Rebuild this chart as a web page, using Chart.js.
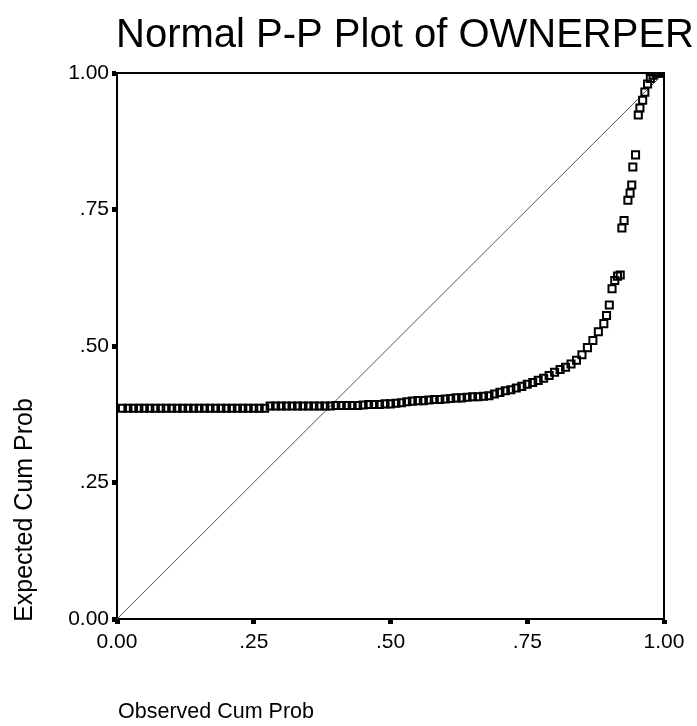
<!DOCTYPE html>
<html>
<head>
<meta charset="utf-8">
<script src="https://cdn.jsdelivr.net/npm/chart.js@4/dist/chart.umd.min.js"></script>
<style>
  html, body { margin: 0; padding: 0; background: #fff; }
  canvas { display: block; }
</style>
</head>
<body>
<canvas id="c" width="697" height="726"></canvas>
<script>
const chartTitle = 'Normal P-P Plot of OWNERPER';
const xAxisTitle = 'Observed Cum Prob';
const yAxisTitle = 'Expected Cum Prob';
const xTickLabels = ['0.00', '.25', '.50', '.75', '1.00'];
const yTickLabels = ['0.00', '.25', '.50', '.75', '1.00'];

// Observed cumulative probability (x) and expected cumulative probability (y)
const observedCum = [
  0.01,0.02,0.03,0.04,0.05,0.06,0.07,0.08,0.09,0.10,
  0.11,0.12,0.13,0.14,0.15,0.16,0.17,0.18,0.19,0.20,
  0.21,0.22,0.23,0.24,0.25,0.26,0.27,0.28,0.29,0.30,
  0.31,0.32,0.33,0.34,0.35,0.36,0.37,0.38,0.39,0.40,
  0.41,0.42,0.43,0.44,0.45,0.46,0.47,0.48,0.49,0.50,
  0.51,0.52,0.53,0.54,0.55,0.56,0.57,0.58,0.59,0.60,
  0.61,0.62,0.63,0.64,0.65,0.66,0.67,0.68,0.69,0.70,
  0.71,0.72,0.73,0.74,0.75,0.76,0.77,0.78,0.79,0.80,
  0.81,0.82,0.83,0.84,0.85,0.86,0.87,0.88,0.89,0.895,
  0.90,0.905,0.91,0.915,0.92,0.923,0.927,0.934,0.938,0.941,
  0.943,0.948,0.953,0.956,0.961,0.965,0.970,0.975,0.980,0.985,
  0.990,0.995,1.00
];
const expectedCum = [
  0.386,0.386,0.386,0.386,0.386,0.386,0.386,0.386,0.386,0.386,
  0.386,0.386,0.386,0.386,0.386,0.386,0.386,0.386,0.386,0.386,
  0.386,0.386,0.386,0.386,0.386,0.386,0.386,0.390,0.390,0.390,
  0.390,0.390,0.390,0.390,0.390,0.390,0.390,0.390,0.390,0.391,
  0.391,0.391,0.391,0.391,0.392,0.393,0.393,0.393,0.394,0.394,
  0.395,0.396,0.398,0.399,0.400,0.400,0.401,0.402,0.402,0.403,
  0.404,0.405,0.405,0.406,0.407,0.407,0.408,0.409,0.412,0.415,
  0.418,0.420,0.423,0.426,0.430,0.433,0.437,0.441,0.446,0.452,
  0.457,0.461,0.467,0.474,0.484,0.497,0.510,0.526,0.541,0.556,
  0.575,0.605,0.620,0.628,0.630,0.716,0.730,0.767,0.780,0.795,
  0.828,0.850,0.923,0.936,0.950,0.965,0.980,0.990,0.996,1.000,
  1.000,1.000,1.000
];
const diagonalX = [0, 1];
const diagonalY = [0, 1];

const points = observedCum.map((x, i) => ({ x: x, y: expectedCum[i] }));
const diagonal = diagonalX.map((x, i) => ({ x: x, y: diagonalY[i] }));

const FONT = "'Liberation Sans', Arial, Helvetica, sans-serif";

const framePlugin = {
  id: 'frameAndText',
  afterDraw(chart) {
    const ctx = chart.ctx;
    const a = chart.chartArea;
    ctx.save();
    // top and right frame
    ctx.strokeStyle = '#000';
    ctx.lineWidth = 2;
    ctx.beginPath();
    ctx.moveTo(a.left, a.top);
    ctx.lineTo(a.right, a.top);
    ctx.lineTo(a.right, a.bottom);
    ctx.stroke();
    // title
    ctx.fillStyle = '#000';
    ctx.font = '40px ' + FONT;
    ctx.textAlign = 'center';
    ctx.textBaseline = 'alphabetic';
    ctx.fillText(chartTitle, 405, 47);
    // x axis title (left aligned with plot)
    ctx.font = '21.5px ' + FONT;
    ctx.textAlign = 'left';
    ctx.fillText(xAxisTitle, a.left + 1, 718);
    // y axis title
    ctx.translate(32, 510);
    ctx.rotate(-Math.PI / 2);
    ctx.font = '25px ' + FONT;
    ctx.textAlign = 'center';
    ctx.textBaseline = 'alphabetic';
    ctx.fillText(yAxisTitle, 0, 0);
    ctx.restore();
  }
};

new Chart(document.getElementById('c'), {
  type: 'scatter',
  data: {
    datasets: [
      {
        label: 'Diagonal',
        data: diagonal,
        showLine: true,
        borderColor: '#555',
        borderWidth: 1,
        pointRadius: 0,
        fill: false,
        order: 2
      },
      {
        label: 'OWNERPER',
        data: points,
        pointStyle: 'rect',
        pointRadius: 5,
        borderColor: '#000',
        borderWidth: 2,
        backgroundColor: 'rgba(0,0,0,0)',
        order: 1
      }
    ]
  },
  options: {
    responsive: false,
    animation: false,
    layout: { padding: { top: 73, right: 33, left: 0, bottom: 0 } },
    plugins: {
      legend: { display: false },
      tooltip: { enabled: false },
      title: { display: false }
    },
    scales: {
      x: {
        type: 'linear',
        min: 0, max: 1,
        afterFit: s => { s.height = 107; },
        afterBuildTicks: s => { s.ticks = xTickLabels.map((t, i) => ({ value: i / (xTickLabels.length - 1) })); },
        ticks: {
          color: '#000',
          font: { family: FONT, size: 21 },
          padding: 6,
          maxRotation: 0,
          callback: (v) => xTickLabels[Math.round(v * (xTickLabels.length - 1))]
        },
        grid: { display: true, drawOnChartArea: false, drawTicks: true, tickLength: 5, tickWidth: 5, tickColor: '#000' },
        border: { display: true, color: '#000', width: 2 }
      },
      y: {
        type: 'linear',
        min: 0, max: 1,
        afterFit: s => { s.width = 117; },
        afterBuildTicks: s => { s.ticks = yTickLabels.map((t, i) => ({ value: i / (yTickLabels.length - 1) })); },
        ticks: {
          color: '#000',
          font: { family: FONT, size: 21 },
          padding: 3,
          callback: (v) => yTickLabels[Math.round(v * (yTickLabels.length - 1))]
        },
        grid: { display: true, drawOnChartArea: false, drawTicks: true, tickLength: 5, tickWidth: 5, tickColor: '#000' },
        border: { display: true, color: '#000', width: 2 }
      }
    }
  },
  plugins: [framePlugin]
});
</script>
</body>
</html>
